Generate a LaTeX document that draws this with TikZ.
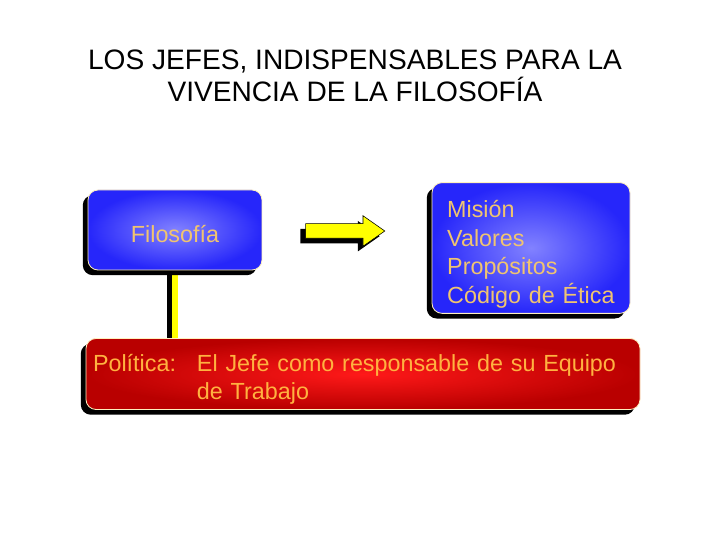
\documentclass[tikz,border=0pt]{standalone}
\usepackage{fontspec}
\setmainfont{Liberation Sans}
\usetikzlibrary{positioning, shapes.arrows, shadows, backgrounds}

\definecolor{azulBorde}{RGB}{38,38,250}
\definecolor{azulCentro}{RGB}{130,130,255}
\definecolor{rojoBorde}{RGB}{185,0,0}
\definecolor{rojoCentro}{RGB}{255,25,25}
\definecolor{textoOro}{RGB}{240,196,112}
\definecolor{textoNaranja}{RGB}{255,178,64}
\definecolor{bordeClaro}{RGB}{255,240,190}
\definecolor{amarillo}{RGB}{255,255,0}

\tikzset{
	sombra/.style={drop shadow={shadow xshift=-0.13cm, shadow yshift=-0.13cm, opacity=1, fill=black}},
	caja/.style={rectangle, rounded corners=0.25cm, draw=bordeClaro, line width=0.6pt, sombra,
		font=\fontsize{16.6}{20.5}\selectfont},
	cajaAzul/.style={caja, inner color=azulCentro, outer color=azulBorde, text=textoOro},
	cajaRoja/.style={caja, inner color=rojoCentro, outer color=rojoBorde, text=textoNaranja},
	flechaGruesa/.style={single arrow, draw=black, line width=0.4pt, fill=amarillo, sombra,
		inner xsep=0pt, inner ysep=0.175cm, minimum height=1.98cm,
		single arrow head extend=0.2cm, single arrow tip angle=70},
	conector/.style={line width=0.16cm, draw=amarillo},
	conectorSombra/.style={line width=0.16cm, draw=black, transform canvas={xshift=-0.13cm}}
}

\begin{document}
\begin{tikzpicture}
	\useasboundingbox (0,0) rectangle (18,13.5);
	
	%Titulo
	\node (titulo) at (8.875,11.6) [align=center, font=\fontsize{20}{22.7}\selectfont]
	{LOS JEFES, INDISPENSABLES PARA LA\\ VIVENCIA DE LA FILOSOFÍA};
	
	%Filosofia
	\node (filosofia) at (4.375,7.75) [cajaAzul, minimum width=4.35cm, minimum height=2cm]
	{\rule{0pt}{0.62cm}Filosofía};
	
	%Flecha
	\node (flecha) at (8.5,7.725) [flechaGruesa]{};
	
	%Mision, valores...
	\node (elementos) at (13.275,7.3) [cajaAzul, minimum width=4.95cm, minimum height=3.25cm,
	inner xsep=0.2cm, text width=4.55cm, align=left]
	{\hspace*{0.18cm}\rule{0pt}{0.75cm}Misión\\ \hspace*{0.18cm}Valores\\
		\hspace*{0.18cm}Propósitos\\ \hspace*{0.18cm}Código de Ética};
	
	%Politica
	\node (politica) at (9.075,4.15) [cajaRoja, minimum width=13.85cm, minimum height=1.7cm,
	inner xsep=0.175cm, text width=13.5cm, align=left]
	{\rule{0pt}{0.7cm}\makebox[2.6cm][l]{Política:}El Jefe como responsable de su Equipo\\
		\hspace*{2.6cm}de Trabajo};
	
	%Links
	\begin{scope}[on background layer]
		\draw[conectorSombra] (filosofia.south) -- (filosofia.south |- politica.north);
		\draw[conector] (filosofia.south) -- (filosofia.south |- politica.north);
	\end{scope}
	
\end{tikzpicture}
\end{document}
